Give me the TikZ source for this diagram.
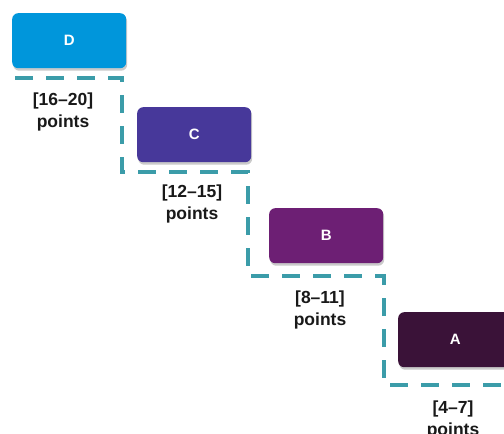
\documentclass[tikz,border=0pt]{standalone}
\usepackage{fontspec}
\setmainfont{Liberation Sans}
\usetikzlibrary{shadows}
\definecolor{levelD}{HTML}{0096DB}
\definecolor{levelC}{HTML}{47389A}
\definecolor{levelB}{HTML}{6D1F74}
\definecolor{levelA}{HTML}{3A1238}
\definecolor{stairline}{HTML}{3B9CA9}
\tikzset{
	levelbox/.style={rounded corners=6pt, minimum width=114pt, minimum height=55pt, inner sep=0pt, anchor=north west, text=white, font=\fontsize{15}{17}\selectfont\bfseries, drop shadow={shadow xshift=1pt, shadow yshift=-2.5pt, opacity=0.35, fill=black!60}},
	rangelabel/.style={anchor=north, align=center, inner sep=0pt, text=black!90, font=\fontsize{17.5}{21.5}\selectfont\bfseries},
	stairs/.style={line width=4pt, color=stairline, dash pattern=on 18pt off 13pt}
}

\begin{document}
\begin{tikzpicture}[x=1pt, y=1pt]
			%%%%% START %%%%%
			
			\useasboundingbox (0, 0) rectangle (504, -434);
			\clip (0, 0) rectangle (504, -434);
			
			\draw[stairs] (15, -78) -- (122, -78) -- (122, -172) -- (248, -172) -- (248, -276) -- (384, -276) -- (384, -385) -- (510, -385);
			
			\node[levelbox, fill=levelD] (D) at (12, -13) {D};
			\node[levelbox, fill=levelC] (C) at (137, -107) {C};
			\node[levelbox, fill=levelB] (B) at (269, -208) {B};
			\node[levelbox, fill=levelA] (A) at (398, -312) {A};
			
			\node[rangelabel] (lblD) at (63, -93) {[16–20]\\points};
			\node[rangelabel] (lblC) at (192, -185) {[12–15]\\points};
			\node[rangelabel] (lblB) at (320, -291) {[8–11]\\points};
			\node[rangelabel] (lblA) at (453, -401) {[4–7]\\points};
			
			%%%%% END %%%%%
\end{tikzpicture}
\end{document}
